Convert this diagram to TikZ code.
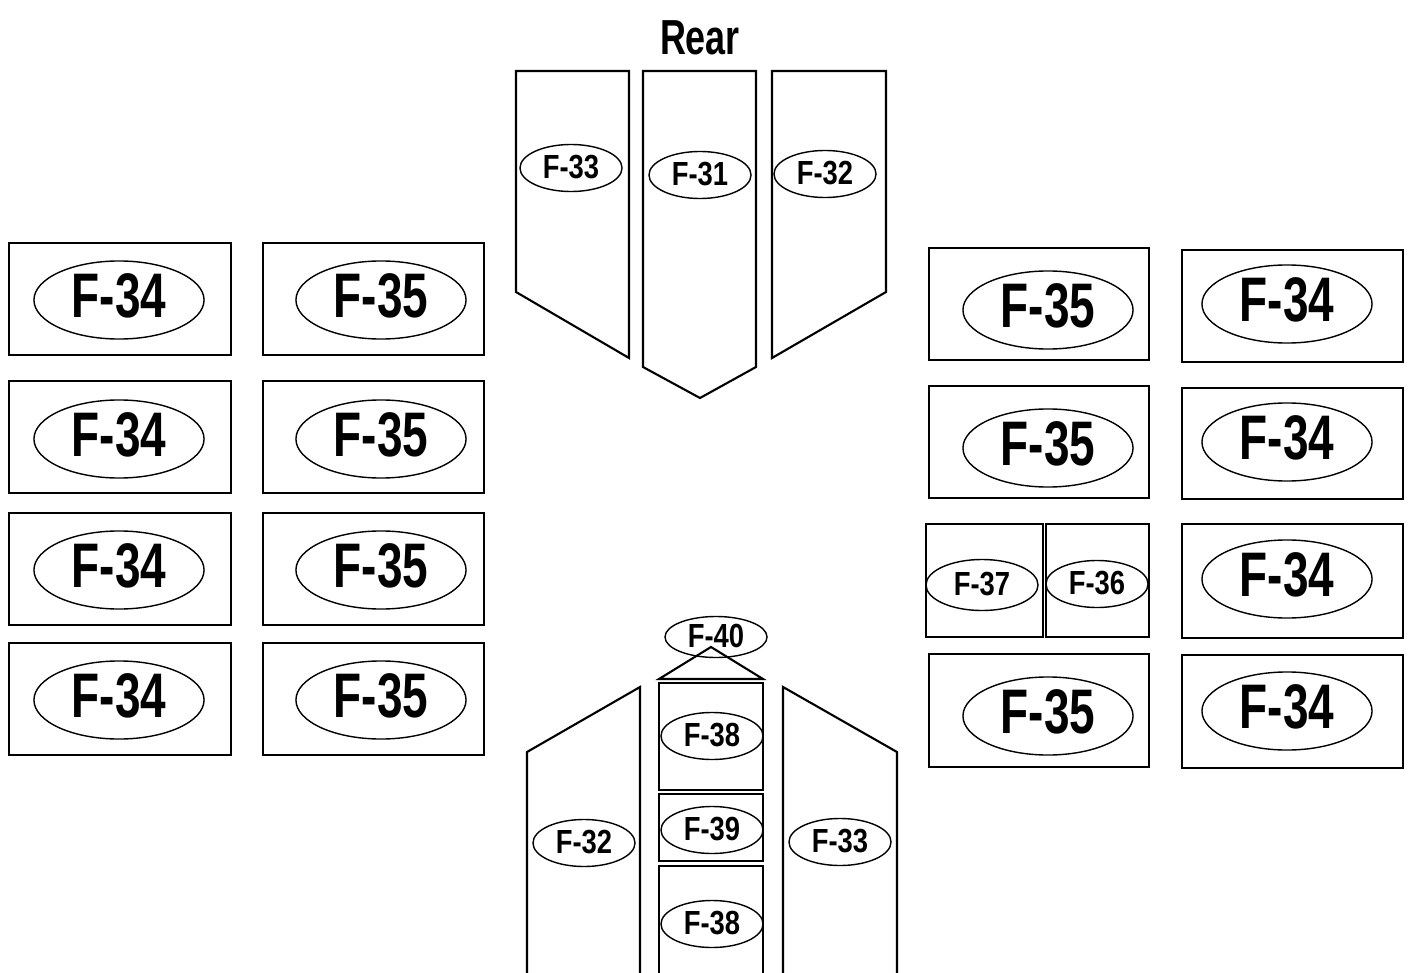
\documentclass[tikz,border=0pt]{standalone}
\usepackage{fontspec}
\usepackage{tikz}
\usetikzlibrary{shapes.geometric}
\newfontfamily\tagfont[FakeStretch=0.73]{Liberation Sans Bold}
\newfontfamily\smalltagfont[FakeStretch=0.82]{Liberation Sans Bold}
\tikzset{panel/.style={line width=0.6pt},tag/.style={draw,ellipse,inner sep=0pt,line width=0.4pt},big tag/.style={tag,font=\tagfont\fontsize{17.9}{18}\selectfont,text depth=0.09cm,minimum width=1.70cm,minimum height=0.78cm},small tag/.style={tag,font=\smalltagfont\fontsize{9.5}{10}\selectfont,text depth=0.03cm,minimum width=1.02cm,minimum height=0.47cm}}

\begin{document}
\begin{tikzpicture}[x=0.01cm,y=-0.01cm]
				\useasboundingbox (0,0) rectangle (1412,973);
				\node[font=\tagfont\fontsize{14}{15}\selectfont] (rear) at (700,38) {Rear};
				% rear panels
				\draw[panel] (516,71) -- (629,71) -- (629,358) -- (516,292) -- cycle;
				\draw[panel] (643,71) -- (756,71) -- (756,367) -- (700,398) -- (643,367) -- cycle;
				\draw[panel] (772,71) -- (886,71) -- (886,292) -- (772,358) -- cycle;
				\node[small tag] (r33) at (571,168) {F-33};
				\node[small tag] (r31) at (700,175) {F-31};
				\node[small tag] (r32) at (825,174) {F-32};
				% left side
				\draw[panel] (9,243) rectangle (231,355);
				\draw[panel] (9,381) rectangle (231,493);
				\draw[panel] (9,513) rectangle (231,625);
				\draw[panel] (9,643) rectangle (231,755);
				\draw[panel] (263,243) rectangle (484,355);
				\draw[panel] (263,381) rectangle (484,493);
				\draw[panel] (263,513) rectangle (484,625);
				\draw[panel] (263,643) rectangle (484,755);
				\node[big tag] (l34a) at (119,300) {F-34};
				\node[big tag] (l34b) at (119,439) {F-34};
				\node[big tag] (l34c) at (119,570) {F-34};
				\node[big tag] (l34d) at (119,700) {F-34};
				\node[big tag] (l35a) at (381,300) {F-35};
				\node[big tag] (l35b) at (381,439) {F-35};
				\node[big tag] (l35c) at (381,570) {F-35};
				\node[big tag] (l35d) at (381,700) {F-35};
				% right side
				\draw[panel] (929,248) rectangle (1149,360);
				\draw[panel] (929,386) rectangle (1149,498);
				\draw[panel] (926,524) rectangle (1043,637);
				\draw[panel] (1046,524) rectangle (1149,637);
				\draw[panel] (929,654) rectangle (1149,767);
				\draw[panel] (1182,250) rectangle (1403,362);
				\draw[panel] (1182,388) rectangle (1403,499);
				\draw[panel] (1182,524) rectangle (1403,638);
				\draw[panel] (1182,655) rectangle (1403,768);
				\node[big tag] (r35a) at (1048,310) {F-35};
				\node[big tag] (r35b) at (1048,448) {F-35};
				\node[small tag,minimum width=1.12cm,minimum height=0.51cm] (r37) at (982,585) {F-37};
				\node[small tag] (r36) at (1097,584) {F-36};
				\node[big tag] (r35c) at (1048,716) {F-35};
				\node[big tag] (r34a) at (1287,304) {F-34};
				\node[big tag] (r34b) at (1287,442) {F-34};
				\node[big tag] (r34c) at (1287,579) {F-34};
				\node[big tag] (r34d) at (1287,711) {F-34};
				% front panels
				\draw[panel] (527,973) -- (527,752) -- (640,687) -- (640,973);
				\draw[panel] (783,973) -- (783,687) -- (897,752) -- (897,973);
				\draw[panel] (659,679) -- (711,647) -- (763,679) -- cycle;
				\draw[panel] (659,683) rectangle (763,790);
				\draw[panel] (659,794) rectangle (763,861);
				\draw[panel] (659,973) -- (659,866) -- (763,866) -- (763,973);
				\node[small tag,minimum height=0.41cm] (f40) at (716,637) {F-40};
				\node[small tag] (f38a) at (712,736) {F-38};
				\node[small tag] (f39) at (712,830) {F-39};
				\node[small tag] (f38b) at (712,924) {F-38};
				\node[small tag] (f32) at (584,843) {F-32};
				\node[small tag] (f33) at (840,842) {F-33};
			\end{tikzpicture}
\end{document}
